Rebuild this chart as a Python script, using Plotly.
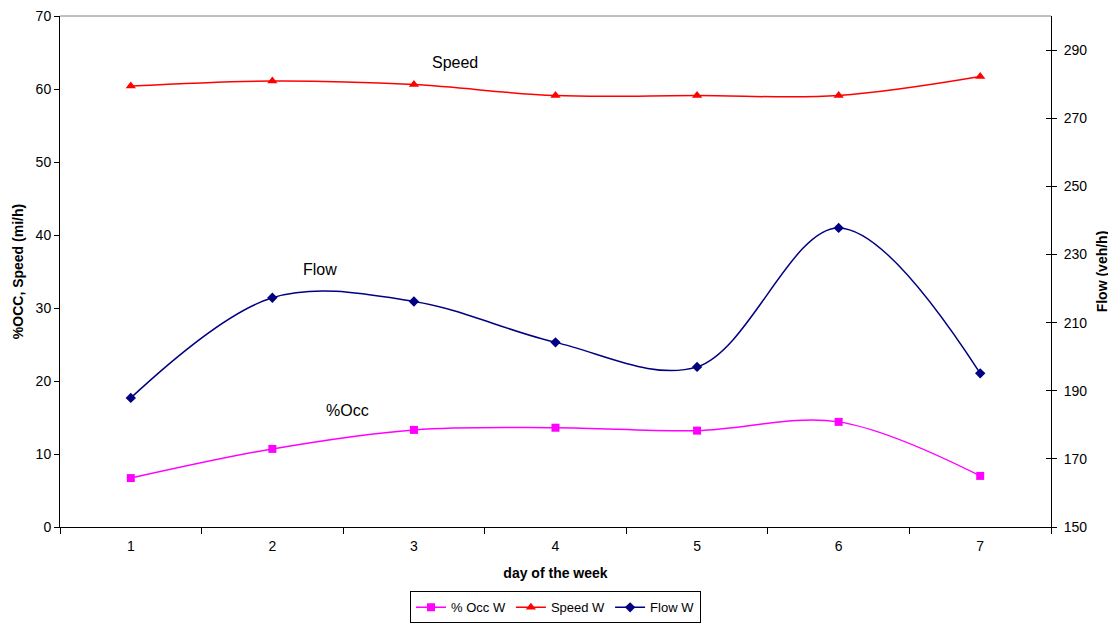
import plotly.graph_objects as go

days = ["1", "2", "3", "4", "5", "6", "7"]
occ = [6.7, 10.7, 13.3, 13.6, 13.2, 14.4, 7.0]
speed = [60.4, 61.1, 60.6, 59.1, 59.1, 59.1, 61.7]
flow = [187.9, 217.3, 216.2, 204.2, 197.0, 237.8, 195.1]
flow_ticks = [150, 170, 190, 210, 230, 250, 270, 290]

FONT = "Liberation Sans, Arial, sans-serif"

fig = go.Figure()
fig.add_trace(go.Scatter(x=days, y=occ, name="% Occ W", mode="lines+markers",
                         line=dict(color="#FF00FF", width=1.5, shape="spline", smoothing=1.0),
                         marker=dict(symbol="square", size=8, color="#FF00FF")))
fig.add_trace(go.Scatter(x=days, y=speed, name="Speed W", mode="lines+markers",
                         line=dict(color="#FF0000", width=1.5, shape="spline", smoothing=1.0),
                         marker=dict(symbol="triangle-up", size=9, color="#FF0000")))
fig.add_trace(go.Scatter(x=days, y=flow, name="Flow W", mode="lines+markers", yaxis="y2",
                         line=dict(color="#000080", width=1.5, shape="spline", smoothing=1.0),
                         marker=dict(symbol="diamond", size=8, color="#000080")))

fig.update_layout(
    width=1108, height=640,
    margin=dict(l=52, r=65, t=8, b=121),
    paper_bgcolor="white", plot_bgcolor="white",
    font=dict(family=FONT, size=14, color="black"),
    showlegend=True,
    legend=dict(orientation="h", x=0.5, xanchor="center", y=-0.126, yanchor="top",
                bordercolor="black", borderwidth=1, font=dict(size=13),
                tracegroupgap=0),
    xaxis=dict(type="category", range=[-0.5, 6.5], showgrid=False, zeroline=False,
               showline=True, linecolor="black", linewidth=1, automargin=False,
               ticks="outside", tickson="boundaries", ticklen=6, tickcolor="black",
               tickfont=dict(size=14), ticklabelstandoff=6,
               title=dict(text="<b>day of the week</b>", font=dict(size=14), standoff=15)),
    yaxis=dict(range=[0, 70], dtick=10, showgrid=False, zeroline=False,
               showline=True, linecolor="black", linewidth=1, automargin=False,
               ticks="outside", ticklen=5, tickcolor="black", tickfont=dict(size=14),
               ticklabeloverflow="allow",
               title=dict(text="<b>%OCC, Speed (mi/h)</b>", font=dict(size=14), standoff=8)),
    yaxis2=dict(range=[150, 300], tickvals=flow_ticks,
                overlaying="y", side="right", showgrid=False, zeroline=False,
                showline=True, linecolor="black", linewidth=1, automargin=False,
                ticks="outside", ticklen=5, tickcolor="black", tickfont=dict(size=14),
                ticklabelstandoff=4, ticklabeloverflow="allow",
                title=dict(text="<b>Flow (veh/h)</b>", font=dict(size=14), standoff=10)),
    yaxis3=dict(range=[150, 300], tickvals=flow_ticks,
                overlaying="y", side="right", showgrid=False, zeroline=False,
                showline=False, showticklabels=False, automargin=False,
                ticks="inside", ticklen=5, tickcolor="black"),
    shapes=[dict(type="line", xref="paper", yref="paper", x0=0, x1=1, y0=1, y1=1,
                 line=dict(color="#808080", width=1))],
    annotations=[
        dict(x=2.29, y=63.6, xref="x", yref="y", text="Speed", showarrow=False,
             font=dict(size=16)),
        dict(x=1.34, y=35.3, xref="x", yref="y", text="Flow", showarrow=False,
             font=dict(size=16)),
        dict(x=1.53, y=16.0, xref="x", yref="y", text="%Occ", showarrow=False,
             font=dict(size=16)),
    ],
)
# dummy trace to activate the crossing tick axis
fig.add_trace(go.Scatter(x=[days[0]], y=[None], yaxis="y3", showlegend=False,
                         hoverinfo="skip", mode="markers"))

fig.write_html("out.html")
